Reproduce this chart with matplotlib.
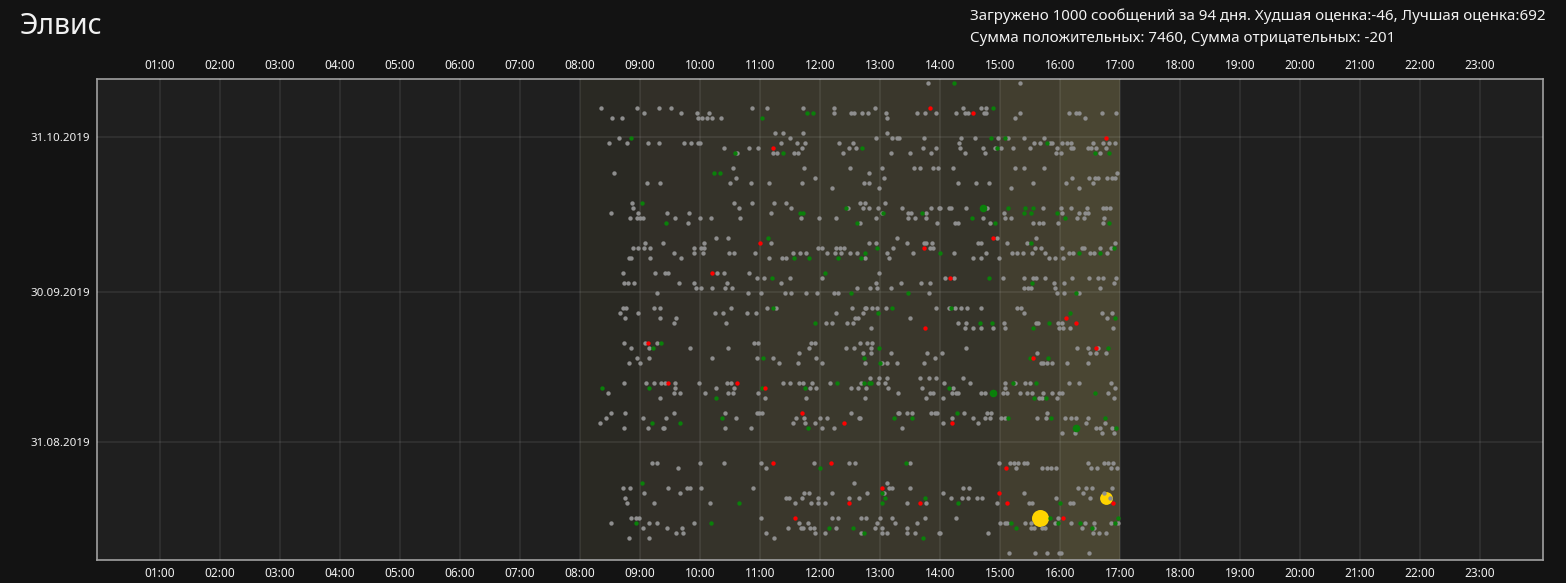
import matplotlib
matplotlib.use("Agg")
import matplotlib.pyplot as plt
import matplotlib.dates as mdates
from datetime import datetime, timedelta

plt.rcParams['font.family'] = ['Noto Sans', 'DejaVu Sans']

# ---------------- data ----------------
title = "Элвис"
summary_lines = [
    "Загружено 1000 сообщений за 94 дня. Худшая оценка:-46, Лучшая оценка:692",
    "Сумма положительных: 7460, Сумма отрицательных: -201",
]
date_ticks = ["2019-08-31", "2019-09-30", "2019-10-31"]
hour_ticks = list(range(1, 24))

# working hours shading (hour start) and its tint
shade_hours = [8, 9, 10, 11, 12, 13, 14, 15, 16]
shade_colors = ["#2a2923", "#322f28", "#35332a", "#3a372c", "#3b392d",
                "#3a372c", "#36342a", "#423e2f", "#4a4633"]

# messages: per day, minutes after 08:00; suffix = kind
# '' neutral, g positive, r negative, G big positive, y / Y best scores
row_dates = [
    "2019-11-11", "2019-11-06", "2019-11-05", "2019-11-04", "2019-11-01",
    "2019-10-31", "2019-10-30", "2019-10-29", "2019-10-28", "2019-10-25",
    "2019-10-24", "2019-10-23", "2019-10-22", "2019-10-21", "2019-10-18",
    "2019-10-17", "2019-10-16", "2019-10-15", "2019-10-14", "2019-10-11",
    "2019-10-10", "2019-10-09", "2019-10-08", "2019-10-07", "2019-10-04",
    "2019-10-03", "2019-10-02", "2019-10-01", "2019-09-30", "2019-09-27",
    "2019-09-26", "2019-09-25", "2019-09-24", "2019-09-23", "2019-09-20",
    "2019-09-19", "2019-09-18", "2019-09-17", "2019-09-16", "2019-09-13",
    "2019-09-12", "2019-09-11", "2019-09-10", "2019-09-09", "2019-09-06",
    "2019-09-05", "2019-09-04", "2019-09-03", "2019-09-02", "2019-08-27",
    "2019-08-26", "2019-08-23", "2019-08-22", "2019-08-21", "2019-08-20",
    "2019-08-19", "2019-08-16", "2019-08-15", "2019-08-14", "2019-08-13",
    "2019-08-12", "2019-08-09",
]
row_messages = [
    "348 374g 440",
    "21 57 79 91 172 187 223 254 295 350r 383 401 406 413g",
    "64 101 117 129 227g 233g 254 271 274 282 288 306 337 345 356 376 385 388 393r 404 406 440 489 496 499 522 536",
    "32 42 118 122 127 132 141 182g 307 435 505",
    "195 203 223 307",
    "39 51g 210 296 312 317 319 344 381 395 411g 418 425g 428 444 464 526r",
    "29 47 68 79 104 111 118 120 201 217 225 259 273 379 454 460 467g 470 472 482 487 491 513 523 529 535",
    "144 169 178 193r 222 269 276 282g 343 356 380 403 415 417g 421 433 450 477 491 493 508 511 516 526",
    "155g 157 193 197 203g 214 218 263 311 330 351 385 405 476 481 515g 520 529g",
    "153 224 270 302 334 340 353 358 373 435 444 464",
    "34 134g 140g 289 537",
    "156 235 304 492 509 515 518 527 532 535",
    "67 80 150 171 189 222 284 289 378 396 409 453 486 513",
    "252 299 431 499",
    "52 62g 154 172 194 206 280 285 305",
    "53 159 211 266g 268 283 289 298 322 351 359 360 369 371 386 403G 407 428g 445g 453g 463 481 491 507 523 526 530",
    "31 58 87 109 191 220g 223g 302 303g 328 331 342g 346 424 444g 451g 477g 482 499 505 508",
    "50 57 60 63 95 120 131 160 221 239 256 296 328 335 346 392g 403 425 431 485g 497 504 524",
    "86g 108 277g 280 357 375 378 410 415g 453 459 463 478 523 529g",
    "136 148 188g 317 413r 417 456",
    "65 83 124 180r 191 289 296 327 344 346 352 398 401 427 447 451g 535",
    "53 58 64 70 114 121 124 238 242 256 260 264 297g 313 344r 350 353 455 461 482 502 504 520 531 534g",
    "94 114 123 149 154 175 213 220 226 247 255 261 270 277 285g 307 333 360g 374 406 432 437 443 452 465 489 493 499g 510 514 520g 527",
    "49 51 70 101 189 202 206 214g 229g 258g 281g 285 309 393 401 419 469 475 483",
    "43 75 85 88 132r 137 144 169 245g 299",
    "177 184 192g 210 242 365 370r 374 409g 423 444 453 456 465 492 509 518 523 536",
    "44 48 54 99 114 147 201 296 321 341 350 452g 474 484 534",
    "116 121 132 145 152 277 290 297 311 444 448 451 475 520",
    "77 168 181 205 211 226 237 254 258 271g 328g 349 477 484 496g 499",
    "43 46 74 80 151 187 193g 196 272 285 286 292 297 306 312g 356 369 371g 375 381 387 401 437 441",
    "40 58 135 143 167 176 256 283 298g 444 490g 522 532",
    "45 80 96 275 278 330 486r 527 535g",
    "94 146 235g 246 252 267 273 378 386 400g 412g 424 456 458 469g 478 482 496r",
    "291 345r 385 393 401 413 425 453g 479 483 490 533",
    "44 65 68r 77 81g 174 178 231 235 280 287 292",
    "51 69 73g 110 148 229 266 274 291 299g 386 497 508 516r 518 528g",
    "219 283 291 311 347 362 457 510 516 526",
    "57 69 132 177 183g 193 236 284g 355 450g 453r 468g",
    "49 60 199 218 242 285 300g 302 307 317 344 461 463 467 472 487 508",
    "290 299 307 340 349 356 383",
    "44 66 74 81 85 88r 95 119 147 151 157r 203 210 219 223 232 250 257g 281 284g 289g 291g 298 305 364 390 425 433g 435 445 450 456g 489 499 531",
    "22g 69g 95 136 154 182g 185r 225g 230 236 271 278 286 308 342 369g 373 425 535",
    "28 94 100 125 148 153 178 318 350 353 372 376 378 401 405 413G 423 427 440 447 452 463 472 479 482 515g 528",
    "80 136g 185 226 285 346 363 454g 459 462 466g 477 534",
    "31 45 94 145 177 179 182 222r 271 318 319 327 332 351 355 357 377g 384 407 411 467",
    "26 63 86 142g 156 216 224 240 247 279 280 314g 332g 372 393 405 410 421 425 428g 457 466 471g 485 491 496 508 525g",
    "20 72g 100g 213 225 235 264r 363 372r 398 506 525",
    "44 68 83 84 145 171 228g 242 254 322 496G 516 520 532 536g",
    "482 495 522 534",
    "72 77 120 144 181 193r 234 251r 269 275 326g 330 419 430 434 438 444 447 508 524 528 533",
    "98 186 240g 426r 436 462 467 471 476 511 517 531 537",
    "62g 274 307",
    "43 50 88 107 110 121 173 302r 309 312 330 383 389 498 506 512 532",
    "64 100 224 229 252 287 302g 304 363 419r 444 503 524",
    "45 206 209 222 238 269 279 305g 345g 371 382 388 397 402 476 510 526y 530",
    "47 74 130 159g 215 231 238 245 269r 302g 327 340r 346 378g 417 427r 449 452 480g 490 493 533r",
    "51 56 59 181 215r 252 258 281 286 300 312 345 376 460Y 470g 478 483r 538g",
    "31 56g 69 77 114 131g 219 228 297 315 337 420 425 427 431g 445 451 475 478g 491 500g 505 514 531 535g 538",
    "63 87 102 208 221 223 230 234 249g 256 273g 295 302 327 436g 451 454 462 465 502 512g 514",
    "96 103 186 235 245 281 284g 302 307 327 335 359 360 408 513 519 526",
    "49 69 194 343g",
    "429 455 467 479 481 509",
]
DAY_START_HOUR = 8
TZ_SHIFT_HOURS = -8  # dates are stored in local time, plotted shifted

# ---------------- styles ----------------
BG = "#131313"
PANEL = "#1f1f1f"
TEXT = "#f2f2f2"
kind_style = {
    "":  dict(color="#8e8e8e", s=10, z=3),
    "g": dict(color="#0a800a", s=10, z=4),
    "r": dict(color="#ff0000", s=10, z=4),
    "G": dict(color="#0a800a", s=30, z=4),
    "y": dict(color="#ffd400", s=85, z=2.5),
    "Y": dict(color="#ffd400", s=150, z=2.5),
}

# ---------------- parse ----------------
pts = {k: ([], []) for k in kind_style}
for d, msgs in zip(row_dates, row_messages):
    dnum = mdates.date2num(datetime.strptime(d, "%Y-%m-%d") + timedelta(hours=TZ_SHIFT_HOURS))
    for tok in msgs.split():
        kind = tok.lstrip("0123456789")
        minute = int(tok[:len(tok) - len(kind)])
        pts[kind][0].append(DAY_START_HOUR + minute / 60.0)
        pts[kind][1].append(dnum)

# ---------------- figure ----------------
W, H = 1566, 583
fig = plt.figure(figsize=(W / 100, H / 100), dpi=100, facecolor=BG)
ax = fig.add_axes([97 / W, 1 - 559.7 / H, (1543 - 97) / W, (559.7 - 79) / H])
ax.set_facecolor(PANEL)

oct31 = mdates.date2num(datetime(2019, 10, 31))
ax.set_xlim(-0.05, 24.05)
ax.set_ylim(oct31 - 84.6, oct31 + 11.54)

for h, c in zip(shade_hours, shade_colors):
    ax.axvspan(h, h + 1, color=c, lw=0, zorder=1)

for kind, (xs, ys) in pts.items():
    st = kind_style[kind]
    ax.scatter(xs, ys, s=st["s"], c=st["color"], linewidths=0, zorder=st["z"])

ax.set_xticks(hour_ticks)
ax.set_xticklabels([f"{h:02d}:00" for h in hour_ticks])
yt = [mdates.date2num(datetime.strptime(d, "%Y-%m-%d")) for d in date_ticks]
ax.set_yticks(yt)
ax.set_yticklabels([datetime.strptime(d, "%Y-%m-%d").strftime("%d.%m.%Y") for d in date_ticks])
ax.tick_params(axis="x", top=True, labeltop=True, bottom=True, labelbottom=True,
               length=0, colors=TEXT, labelsize=8.5, pad=5)
ax.tick_params(axis="y", length=0, colors=TEXT, labelsize=8.3, pad=5)

ax.set_axisbelow(False)
ax.grid(True, color="white", alpha=0.07, linewidth=1.5, zorder=1.5)
for sp in ax.spines.values():
    sp.set_color("#a0a0a0")
    sp.set_linewidth(1.2)

fig.text(20 / W, 1 - 27 / H, title, fontsize=20.5, color=TEXT, va="center", ha="left")
fig.text(970 / W, 1 - 16 / H, summary_lines[0], fontsize=10.9, color=TEXT, va="center", ha="left")
fig.text(970 / W, 1 - 39 / H, summary_lines[1], fontsize=10.9, color=TEXT, va="center", ha="left")

fig.savefig("out.png", dpi=100, facecolor=BG)
